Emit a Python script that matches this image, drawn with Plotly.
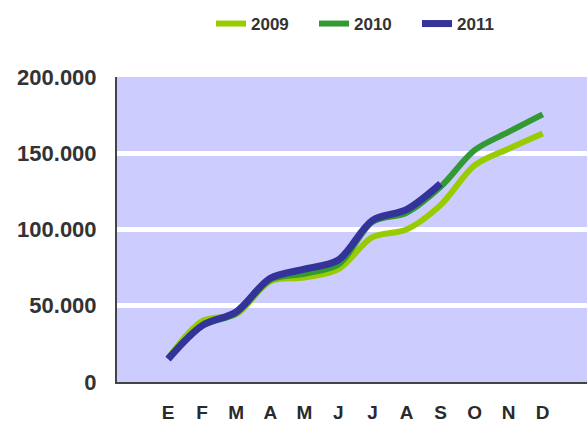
import plotly.graph_objects as go

months = ["E", "F", "M", "A", "M", "J", "J", "A", "S", "O", "N", "D"]
s2009 = [15500, 40000, 44500, 66000, 68500, 74000, 95000, 100000, 116000, 142000, 153000, 163000]
s2010 = [15500, 37000, 45000, 67000, 71000, 77000, 105000, 111000, 128000, 152000, 164000, 175500]
s2011 = [15000, 37000, 46000, 68000, 74000, 80000, 106000, 113000, 130000]
y_ticks = [0, 50000, 100000, 150000, 200000]
y_tick_labels = ["0", "50.000", "100.000", "150.000", "200.000"]

xs = list(range(len(months)))

W, H = 587, 425
PLOT_L, PLOT_T, PLOT_B = 117, 77, 382
plot_w = W - PLOT_L
plot_h = PLOT_B - PLOT_T

fig = go.Figure()
fig.add_trace(go.Scatter(x=xs, y=s2009, name="2009", mode="lines",
                         line=dict(color="#99CC00", width=6, shape="spline", smoothing=0.9)))
fig.add_trace(go.Scatter(x=xs, y=s2010, name="2010", mode="lines",
                         line=dict(color="#339933", width=6, shape="spline", smoothing=0.9)))
fig.add_trace(go.Scatter(x=xs[:len(s2011)], y=s2011, name="2011", mode="lines",
                         line=dict(color="#333399", width=7, shape="spline", smoothing=0.9)))

fig.update_layout(
    width=W, height=H,
    margin=dict(l=PLOT_L, r=0, t=PLOT_T, b=H - PLOT_B, autoexpand=False),
    paper_bgcolor="white",
    plot_bgcolor="#CCCCFF",
    font=dict(family="Liberation Sans", color="#333333"),
    showlegend=True,
    legend=dict(orientation="h", x=(211 - PLOT_L) / plot_w, xanchor="left",
                y=(PLOT_B - 24) / plot_h, yanchor="middle",
                font=dict(family="Liberation Sans", size=17, color="#333333", weight="bold"),
                bgcolor="rgba(0,0,0,0)", entrywidth=58, entrywidthmode="pixels",
                tracegroupgap=0),
)

fig.update_xaxes(
    range=[-1.5, 12.3], automargin=False,
    tickmode="array", tickvals=xs, ticktext=months,
    tickfont=dict(family="Liberation Sans", size=19, color="#2a2a2a", weight="bold"),
    showgrid=False, zeroline=False,
    showline=True, linecolor="#444444", linewidth=2,
    ticks="", ticklabelstandoff=12,
)
fig.update_yaxes(
    range=[0, 200000], automargin=False,
    tickmode="array", tickvals=y_ticks, ticktext=y_tick_labels,
    tickfont=dict(family="Liberation Sans", size=22, color="#333333", weight="bold"),
    showgrid=True, gridcolor="white", gridwidth=5,
    zeroline=False,
    showline=True, linecolor="#444444", linewidth=2, mirror=True,
    ticks="", ticklabelstandoff=14,
)

fig.write_html(
    "out.html",
    config={"responsive": False, "displayModeBar": False},
    post_script="document.body.style.margin='0';document.body.style.overflow='hidden';",
)
